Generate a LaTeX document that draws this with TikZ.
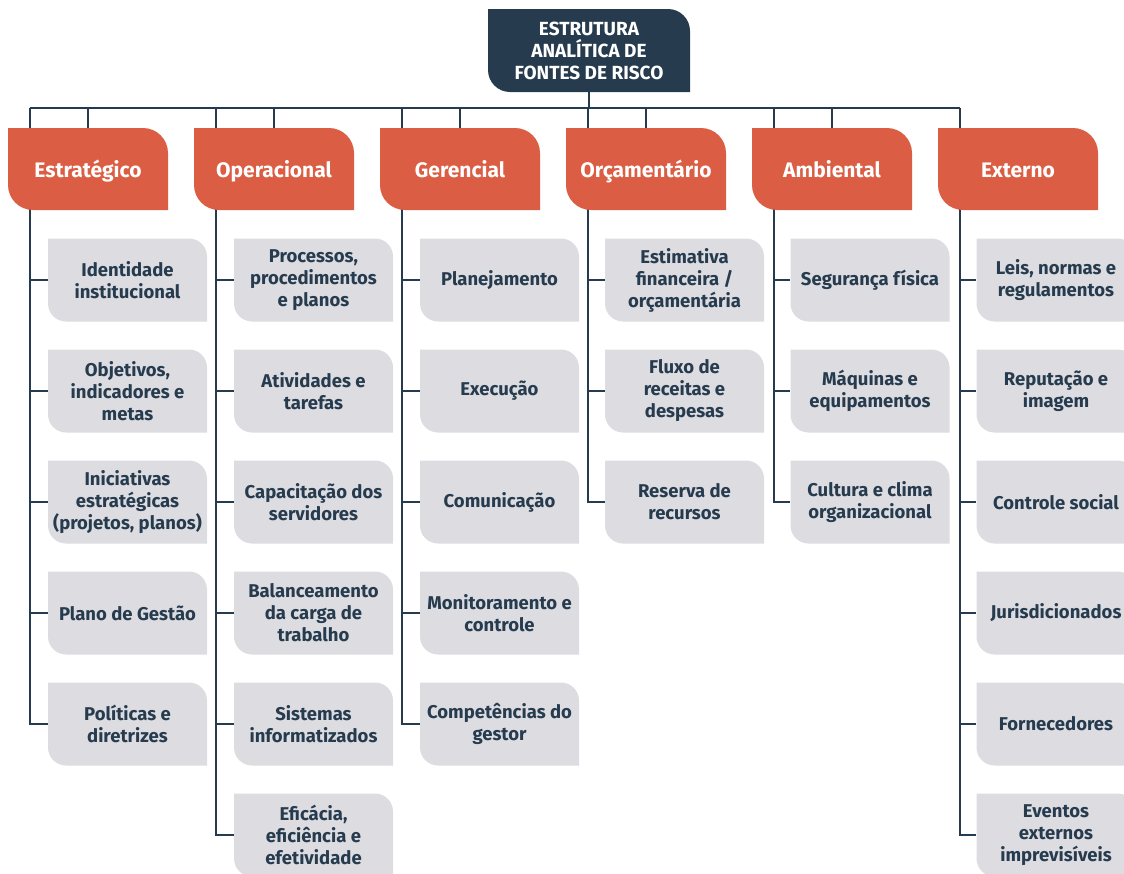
\documentclass[tikz,border=0pt]{standalone}
\usepackage{fontspec}
\setmainfont{Fira Sans}
\usetikzlibrary{backgrounds}
\definecolor{navy}{HTML}{263B4E}
\definecolor{tomato}{HTML}{DB5D43}
\definecolor{mist}{HTML}{DCDCE1}
\tikzset{
  card/.style n args={2}{inner sep=0pt, align=center,
    path picture={\fill[#1] (path picture bounding box.north west)
      -- ([xshift=-#2]path picture bounding box.north east)
      arc[start angle=90,end angle=0,radius=#2]
      -- (path picture bounding box.south east)
      -- ([xshift=#2]path picture bounding box.south west)
      arc[start angle=270,end angle=180,radius=#2] -- cycle;}},
  rootbox/.style={card={navy}{22pt}, minimum width=202pt, minimum height=83pt,
    text=white, font=\bfseries\fontsize{19}{22}\selectfont},
  group/.style={card={tomato}{25pt}, minimum width=160pt, minimum height=82pt,
    text=white, text height=17pt, text depth=1pt,
    font=\bfseries\fontsize{21}{22}\selectfont},
  item/.style={card={mist}{18pt}, minimum width=159pt, minimum height=83pt,
    text=navy, font=\bfseries\fontsize{18.5}{22}\selectfont},
  wire/.style={draw=navy, line width=2pt}
}
\begin{document}
\begin{tikzpicture}[x=1pt,y=-1pt]
  \useasboundingbox (0,0) rectangle (1124,873);
  \node[rootbox] (root) at (589,50.5) {ESTRUTURA\\ANALÍTICA DE\\FONTES DE RISCO};
  \foreach \n/\t [count=\k from 0] in {est/Estratégico, ope/Operacional,
      ger/Gerencial, orc/Orçamentário, amb/Ambiental, ext/Externo}
    \node[group] (\n) at (88+186*\k,169) {\t};
  % itens de cada grupo
  \foreach \t [count=\j] in {{Identidade\\institucional}, {Objetivos,\\indicadores e\\metas},
      {Iniciativas\\estratégicas\\(projetos, planos)}, {Plano de Gestão}, {Políticas e\\diretrizes}}
    \node[item] (est-\j) at (127.5,169+111*\j) {\t};
  \foreach \t [count=\j] in {{Processos,\\procedimentos\\e planos}, {Atividades e\\tarefas},
      {Capacitação dos\\servidores}, {Balanceamento\\da carga de\\trabalho},
      {Sistemas\\informatizados}, {Eficácia,\\eficiência e\\efetividade}}
    \node[item] (ope-\j) at (313.5,169+111*\j) {\t};
  \foreach \t [count=\j] in {Planejamento, Execução, Comunicação,
      {Monitoramento e\\controle}, {Competências do\\gestor}}
    \node[item] (ger-\j) at (499.5,169+111*\j) {\t};
  \foreach \t [count=\j] in {{Estimativa\\financeira /\\orçamentária},
      {Fluxo de\\receitas e\\despesas}, {Reserva de\\recursos}}
    \node[item] (orc-\j) at (684.5,169+111*\j) {\t};
  \foreach \t [count=\j] in {{Segurança física}, {Máquinas e\\equipamentos},
      {Cultura e clima\\organizacional}}
    \node[item] (amb-\j) at (870,169+111*\j) {\t};
  \foreach \t [count=\j] in {{Leis, normas e\\regulamentos}, {Reputação e\\imagem},
      {Controle social}, Jurisdicionados, Fornecedores, {Eventos\\externos\\imprevisíveis}}
    \node[item] (ext-\j) at (1056,169+111*\j) {\t};
  % conectores
  \begin{scope}[on background layer]
    \foreach \k in {0,...,5} \coordinate (t\k) at (30+186*\k,108);
    \draw[wire] (t0) -- (t5);
    \draw[wire] (root.south) -- (root.south |- t0);
    \foreach \n in {est,ope,ger,orc,amb} \draw[wire] (\n) -- (\n |- t0);
    \foreach \n/\m [count=\k from 0] in {est/5, ope/6, ger/5, orc/3, amb/3, ext/6} {
      \draw[wire] (t\k) |- (\n-\m.west);
      \foreach \j in {1,...,\m} \draw[wire] (t\k |- \n-\j.west) -- (\n-\j.west);
    }
  \end{scope}
\end{tikzpicture}
\end{document}
